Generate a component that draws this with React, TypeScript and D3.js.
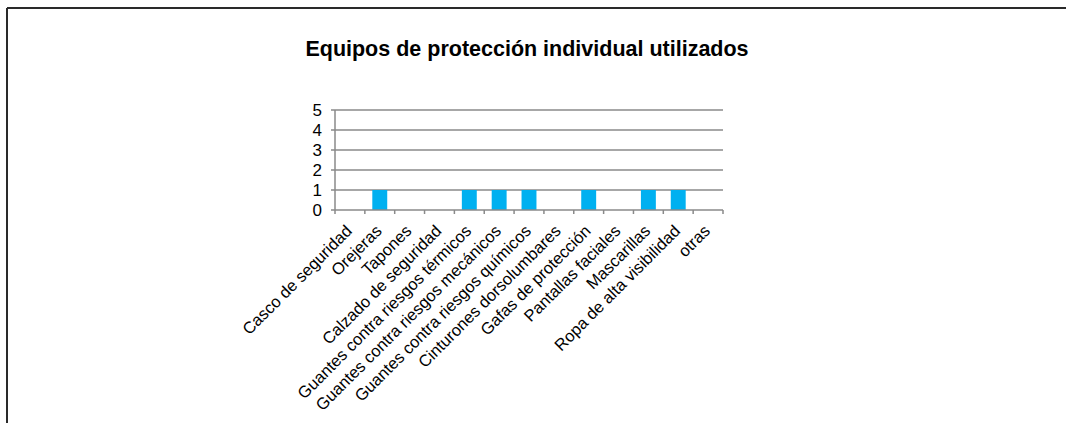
import React from "react";
import { scaleBand, scaleLinear } from "d3";

const categories = [
  "Casco de seguridad",
  "Orejeras",
  "Tapones",
  "Calzado de seguridad",
  "Guantes contra riesgos térmicos",
  "Guantes contra riesgos mecánicos",
  "Guantes contra riesgos químicos",
  "Cinturones dorsolumbares",
  "Gafas de protección",
  "Pantallas faciales",
  "Mascarillas",
  "Ropa de alta visibilidad",
  "otras",
];

const values = [0, 1, 0, 0, 1, 1, 1, 0, 1, 0, 1, 1, 0];

const yTicks = [0, 1, 2, 3, 4, 5];

const title = "Equipos de protección individual utilizados";

const W = 1066;
const H = 423;
const FONT = "'Liberation Sans', Arial, sans-serif";

export default function App() {
  const x = scaleBand<string>()
    .domain(categories)
    .range([335, 723])
    .paddingInner(0.5)
    .paddingOuter(0.25);

  const step = x.step();
  const y = scaleLinear().domain([0, 5]).range([210, 110]);

  const [x0, x1] = [335, 723];

  return (
    <svg
      width={W}
      height={H}
      style={{ position: "absolute", left: 0, top: 0, background: "#fff" }}
      fontFamily={FONT}
    >
      {/* frame */}
      <line x1={7} x2={W} y1={8} y2={8} stroke="#2a2a2a" strokeWidth={2} />
      <line x1={7} x2={7} y1={8} y2={H} stroke="#2a2a2a" strokeWidth={2} />

      <text x={527} y={56} textAnchor="middle" fontSize={21.5} fontWeight="bold" fill="#000">
        {title}
      </text>

      {/* grid + y ticks */}
      {yTicks.map((t) => (
        <g key={t}>
          {t > 0 && (
            <line x1={x0 - 4} x2={x1} y1={y(t)} y2={y(t)} stroke="#8a8a8a" strokeWidth={1.5} />
          )}
          <text x={322} y={y(t)} dy="0.36em" textAnchor="end" fontSize={17} fill="#000">
            {t}
          </text>
        </g>
      ))}

      {/* bars */}
      {categories.map((c, i) => (
        <rect
          key={c}
          x={x(c)}
          y={y(values[i])}
          width={x.bandwidth()}
          height={y(0) - y(values[i])}
          fill="#00B0F0"
        />
      ))}

      {/* axes */}
      <line x1={x0} x2={x0} y1={y(5)} y2={y(0)} stroke="#8a8a8a" strokeWidth={1.5} />
      <line x1={x0 - 4} x2={x1} y1={y(0)} y2={y(0)} stroke="#8a8a8a" strokeWidth={1.5} />
      {categories.map((c, i) => (
        <line
          key={c}
          x1={x0 + i * step}
          x2={x0 + i * step}
          y1={y(0)}
          y2={y(0) + 4}
          stroke="#8a8a8a"
          strokeWidth={1.5}
        />
      ))}
      <line x1={x1} x2={x1} y1={y(0)} y2={y(0) + 4} stroke="#8a8a8a" strokeWidth={1.5} />

      {/* category labels */}
      {categories.map((c) => {
        const cx = (x(c) ?? 0) + x.bandwidth() / 2 + 3;
        const cy = 232;
        return (
          <text
            key={c}
            x={cx}
            y={cy}
            textAnchor="end"
            fontSize={16.5}
            fill="#000"
            transform={`rotate(-45 ${cx} ${cy})`}
          >
            {c}
          </text>
        );
      })}
    </svg>
  );
}
